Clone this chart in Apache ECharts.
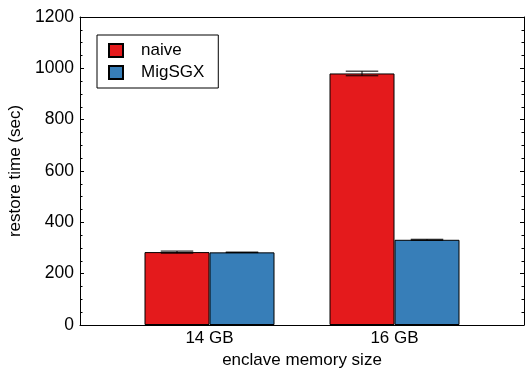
<!DOCTYPE html>
<html><head><meta charset="utf-8">
<script src="https://cdn.jsdelivr.net/npm/echarts@6/dist/echarts.min.js"></script>
<style>html,body{margin:0;padding:0;background:#fff}#c{width:527px;height:369px}</style>
</head><body><div id="c"></div>
<script>
// ---- data ----
const categories = ['14 GB', '16 GB'];
const seriesNames = ['naive', 'MigSGX'];
const naiveValues = [284, 980];
const migsgxValues = [283, 332];
const naiveErr = [4, 9];
const migsgxErr = [1, 2];
const yMin = 0, yMax = 1200, yStep = 200;

// ---- styles ----
const FONT = 'Liberation Sans';
const FS = 17;
const BAR_W = 65;
const colors = ['#e41a1c', '#377eb8'];

const chart = echarts.init(document.getElementById('c'), null, {renderer: 'canvas'});

const pos = categories.map((c, i) => i + 1);
const valuesList = [naiveValues, migsgxValues];
const errList = [naiveErr, migsgxErr];

const errData = [];
valuesList.forEach((vals, s) => {
  vals.forEach((v, i) => {
    errData.push([pos[i], v - errList[s][i], v + errList[s][i], s]);
  });
});

const axisCommonY = {
  type: 'value', min: yMin, max: yMax, interval: yStep,
  axisLine: {show: true, lineStyle: {color: '#000', width: 1}},
  axisTick: {show: true, inside: true, length: 4, lineStyle: {color: '#000', width: 1}},
  minorTick: {show: true, splitNumber: 4, length: 2.5, lineStyle: {color: '#000', width: 1}},
  splitLine: {show: false}
};

const option = {
  animation: false,
  backgroundColor: '#fff',
  textStyle: {fontFamily: FONT, color: '#000'},
  grid: {left: 80, right: 3, top: 17, bottom: 44, containLabel: false, outerBoundsMode: 'none'},
  legend: {
    orient: 'vertical', left: 97, top: 35,
    data: seriesNames,
    itemWidth: 14, itemHeight: 13, itemGap: 5,
    padding: [7, 14, 7, 11],
    borderColor: '#000', borderWidth: 1,
    textStyle: {fontFamily: FONT, fontSize: FS, color: '#000', padding: [0, 0, 0, 13]},
    icon: 'rect'
  },
  xAxis: [{
    type: 'value', min: 0.3, max: 2.7, position: 'bottom',
    axisLine: {show: true, onZero: false, lineStyle: {color: '#000', width: 1}},
    axisTick: {show: false},
    splitLine: {show: false},
    axisLabel: {
      customValues: pos, fontFamily: FONT, fontSize: FS, color: '#000', margin: 5,
      formatter: v => categories[Math.round(v) - 1] || ''
    },
    name: 'enclave memory size', nameLocation: 'middle', nameGap: 24,
    nameTextStyle: {fontFamily: FONT, fontSize: FS, color: '#000'}
  }, {
    type: 'value', min: 0.3, max: 2.7, position: 'top',
    axisLine: {show: true, onZero: false, lineStyle: {color: '#000', width: 1}},
    axisTick: {show: false}, axisLabel: {show: false}, splitLine: {show: false}
  }],
  yAxis: [Object.assign({}, axisCommonY, {
    position: 'left',
    axisLabel: {fontFamily: FONT, fontSize: 17.5, color: '#000', margin: 6, formatter: v => String(v)},
    name: 'restore time (sec)', nameLocation: 'middle', nameGap: 49,
    nameTextStyle: {fontFamily: FONT, fontSize: FS, color: '#000'}
  }), Object.assign({}, axisCommonY, {
    position: 'right',
    axisLabel: {show: false}
  })],
  series: [
    {
      name: seriesNames[0], type: 'bar', xAxisIndex: 0, yAxisIndex: 0,
      barWidth: BAR_W, barGap: '0%',
      itemStyle: {color: colors[0], borderColor: '#000', borderWidth: 1},
      data: naiveValues.map((v, i) => [pos[i], v])
    },
    {
      name: seriesNames[1], type: 'bar', xAxisIndex: 0, yAxisIndex: 0,
      barWidth: BAR_W, barGap: '0%',
      itemStyle: {color: colors[1], borderColor: '#000', borderWidth: 1},
      data: migsgxValues.map((v, i) => [pos[i], v])
    },
    {
      type: 'custom', xAxisIndex: 0, yAxisIndex: 0, z: 10,
      data: errData,
      encode: {x: 0, y: [1, 2]},
      renderItem: function (params, api) {
        const x = api.value(0), lo = api.value(1), hi = api.value(2), s = api.value(3);
        const off = (s === 0 ? -0.5 : 0.5) * BAR_W;
        const pLo = api.coord([x, lo]);
        const pHi = api.coord([x, hi]);
        const cx = pLo[0] + off;
        const half = BAR_W / 4;
        const style = {stroke: '#000', lineWidth: 1};
        return {
          type: 'group',
          children: [
            {type: 'line', shape: {x1: cx, y1: pLo[1], x2: cx, y2: pHi[1]}, style: style},
            {type: 'line', shape: {x1: cx - half, y1: pLo[1], x2: cx + half, y2: pLo[1]}, style: style},
            {type: 'line', shape: {x1: cx - half, y1: pHi[1], x2: cx + half, y2: pHi[1]}, style: style}
          ]
        };
      }
    }
  ]
};
chart.setOption(option);
</script>
</body></html>
